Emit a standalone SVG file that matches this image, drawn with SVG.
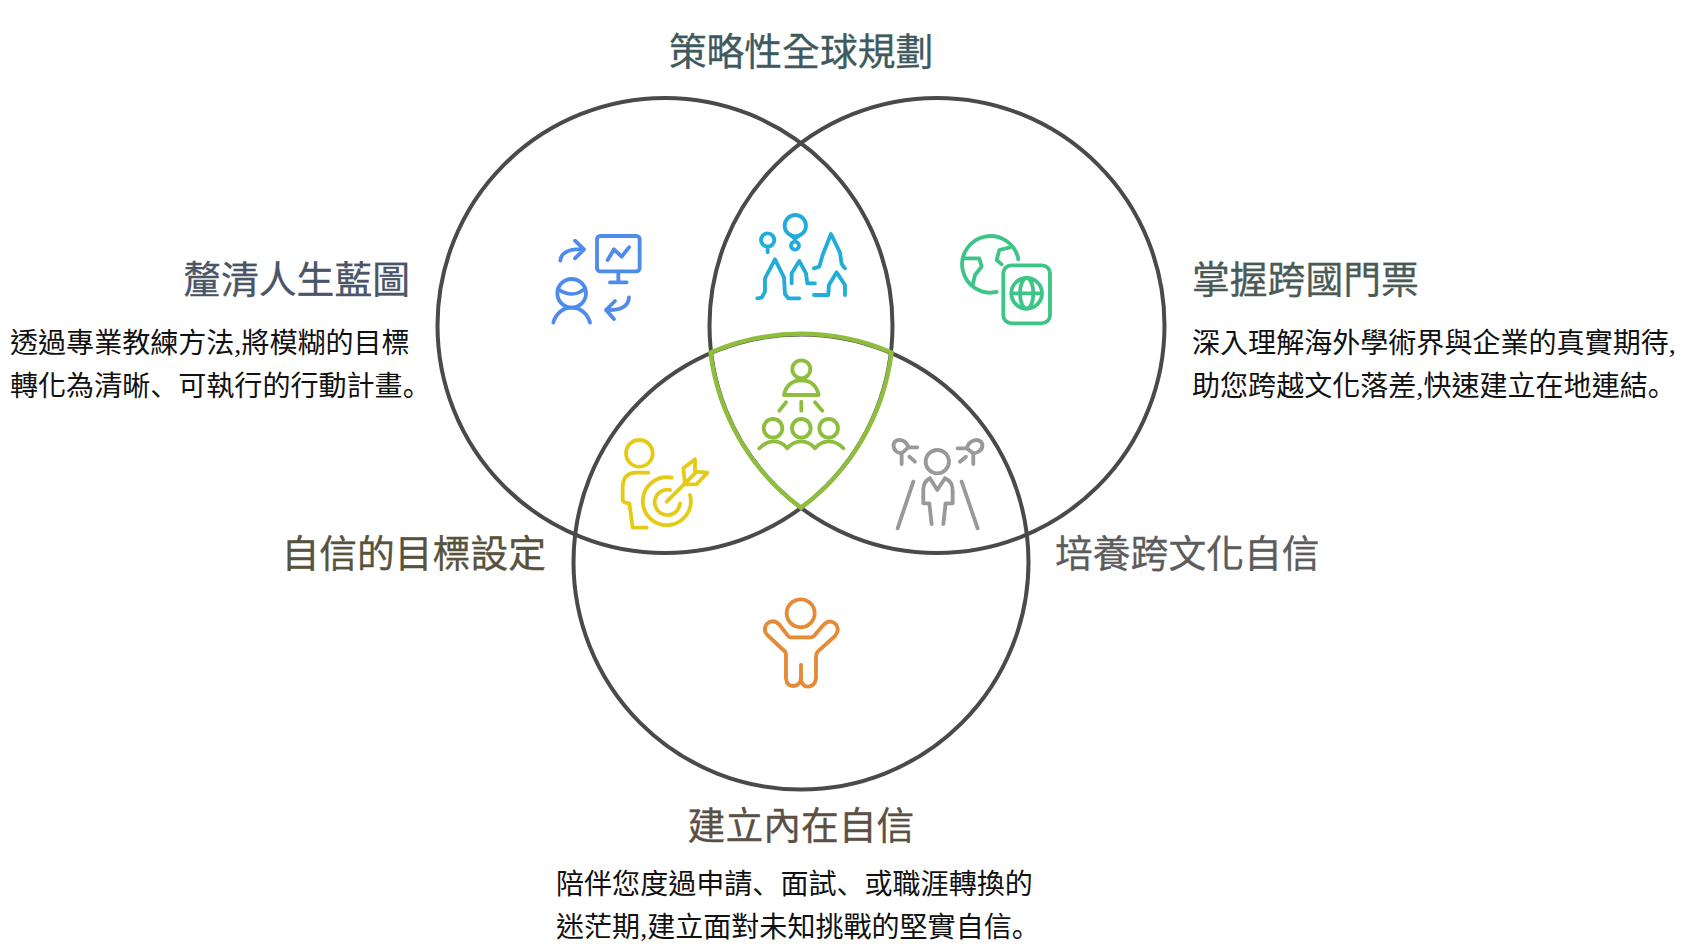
<svg xmlns="http://www.w3.org/2000/svg" width="1689" height="950" viewBox="0 0 1689 950">
<style>
.c{fill:none;stroke:#4a4a4a;stroke-width:4}
.i{fill:none;stroke-width:11.5;stroke-linecap:round;stroke-linejoin:round}
.t{font-family:"Noto Sans CJK TC","Noto Sans CJK SC",sans-serif;font-size:37.8px;font-weight:400;stroke-width:.3px;paint-order:stroke}
.b{font-family:"Liberation Serif","Noto Sans CJK TC",serif;font-size:28.05px;fill:#111}
.p{font-family:"Noto Sans CJK SC",sans-serif}
</style>
<rect width="1689" height="950" fill="#fff"/>
<g id="connectors">
<circle class="c" cx="665" cy="325.5" r="227.5"/>
<circle class="c" cx="937" cy="325.5" r="227.5"/>
<circle class="c" cx="801" cy="562" r="227.5"/>
<path d="M710.5 352.6A227.5 227.5 0 0 1 891.5 352.6A227.5 227.5 0 0 1 801 507.8A227.5 227.5 0 0 1 710.5 352.6Z" fill="none" stroke="#8fbd3e" stroke-width="4.4"/>
</g>
<g id="node-top">
<text class="t" x="801" y="65" text-anchor="middle" fill="#3f5a5e" stroke="#3f5a5e">策略性全球規劃</text>
<g class="i" stroke="#22acd9" transform="translate(530 190) scale(.3333)">
<circle cx="796" cy="107" r="32"/><path d="M783 136L795 146L808 136"/><circle cx="795" cy="167" r="12"/>
<circle cx="713" cy="150" r="20"/><path d="M713 170V187"/>
<path d="M682 325L695 323L705 305V265L735 208L762 262L765 312L775 325H808"/>
<path d="M785 280V250L808 213L828 250L832 280H855"/>
<path d="M852 235L868 230L878 195L903 132L930 188L935 222L945 235"/>
<path d="M852 315H895L897 285L920 247L945 285V315"/>
</g>
</g>
<g id="node-left">
<text class="t" x="410" y="293" text-anchor="end" fill="#4a5568" stroke="#4a5568">釐清人生藍圖</text>
<text class="b" x="10" y="353">透過專業教練方法,將模糊的目標</text>
<text class="b" x="10" y="396">轉化為清晰<tspan class="p">、</tspan>可執行的行動計畫<tspan class="p">。</tspan></text>
<g class="i" stroke="#4f8bea" transform="translate(530 190) scale(.3333)">
<rect x="201" y="138" width="128" height="106" rx="10"/>
<path d="M265 245V277M240 277H290M233 210L252 178L275 200L297 172"/>
<path d="M91 212C92 190 115 175 160 178M135 152L162 178L135 205"/>
<circle cx="125" cy="310" r="43"/><path d="M85 298C110 315 140 318 165 296"/>
<path d="M70 398C85 338 165 338 180 398"/>
<path d="M297 322C295 350 270 362 228 360M255 333L228 360L252 387"/>
</g>
</g>
<g id="node-right">
<text class="t" x="1192" y="293" fill="#4a5a55" stroke="#4a5a55">掌握跨國門票</text>
<text class="b" x="1192" y="353">深入理解海外學術界與企業的真實期待,</text>
<text class="b" x="1192" y="396">助您跨越文化落差,快速建立在地連結<tspan class="p">。</tspan></text>
<g class="i" stroke="#3dc486" transform="translate(930 210) scale(.3333)">
<path d="M265 148A85 85 0 1 0 200 246"/>
<path d="M98 145H148L155 170L135 195L128 225M240 112L208 120L200 150L215 163"/>
<rect x="220" y="166" width="140" height="174" rx="24"/>
<circle cx="290" cy="250" r="46"/><ellipse cx="290" cy="250" rx="20" ry="46"/><path d="M248 250H332"/>
</g>
</g>
<g id="node-center">
<g class="i" stroke="#8fbd3e" transform="translate(600 340) scale(.3333)">
<circle cx="604" cy="88" r="27"/>
<path d="M552 165C558 135 580 122 596 122H612C630 122 650 135 656 165Z"/>
<path d="M558 187L538 212M604 185V212M645 187L667 212"/>
<circle cx="519" cy="265" r="28"/><circle cx="604" cy="265" r="28"/><circle cx="686" cy="265" r="28"/>
<path d="M478 325C505 297 540 297 562 325C585 297 622 297 645 325C668 297 705 297 730 325"/>
</g>
</g>
<g id="node-goal">
<text class="t" x="546" y="567" text-anchor="end" fill="#57523c" stroke="#57523c">自信的目標設定</text>
<g class="i" stroke="#e6cb16" transform="translate(600 340) scale(.3333)">
<circle cx="118" cy="340" r="40"/>
<path d="M145 398H105Q70 400 68 440V480Q70 490 88 490L98 563H140"/>
<path d="M215 413A72 72 0 1 0 270 465"/>
<path d="M210 450A38 38 0 1 0 240 490"/>
<path d="M200 485L285 400M250 385L285 358V395L322 398L290 433H255L250 385"/>
</g>
</g>
<g id="node-culture">
<text class="t" x="1055" y="567" fill="#5c5c5c" stroke="#5c5c5c">培養跨文化自信</text>
<g class="i" stroke="#999" transform="translate(600 340) scale(.3333)">
<circle cx="1012" cy="365" r="35"/>
<path d="M990 415L1012 450L1035 415M990 415Q970 425 970 450V490H988L995 552M1030 552L1037 490H1058V450Q1058 425 1035 415"/>
<path d="M940 425L893 565M1085 425L1133 565"/>
<path d="M925 322L952 322M905 340V372M928 350L945 365M925 322C918 298 888 292 881 312C878 330 893 340 905 340Z"/>
<path d="M1100 325H1073M1120 340V372M1098 350L1080 365M1100 325C1107 298 1140 292 1147 312C1150 330 1132 340 1120 340Z"/>
</g>
</g>
<g id="node-bottom">
<text class="t" x="801" y="839" text-anchor="middle" fill="#5c5044" stroke="#5c5044">建立內在自信</text>
<text class="b" x="556" y="894">陪伴您度過申請<tspan class="p">、</tspan>面試<tspan class="p">、</tspan>或職涯轉換的</text>
<text class="b" x="556" y="937">迷茫期,建立面對未知挑戰的堅實自信<tspan class="p">。</tspan></text>
<g class="i" stroke="#e58a35" transform="translate(740 580) scale(.3333)">
<circle cx="182" cy="100" r="42"/>
<path d="M150 172H212Q218 172 224 166L250 135Q270 115 288 133Q300 150 285 168L234 214Q228 220 228 230V295Q225 318 205 320Q185 320 183 295V255V295Q180 318 160 318Q140 318 138 295V225Q138 215 130 210L82 165Q68 150 80 132Q100 115 118 134L142 165Q146 172 150 172Z"/>
</g>
</g>
</svg>
